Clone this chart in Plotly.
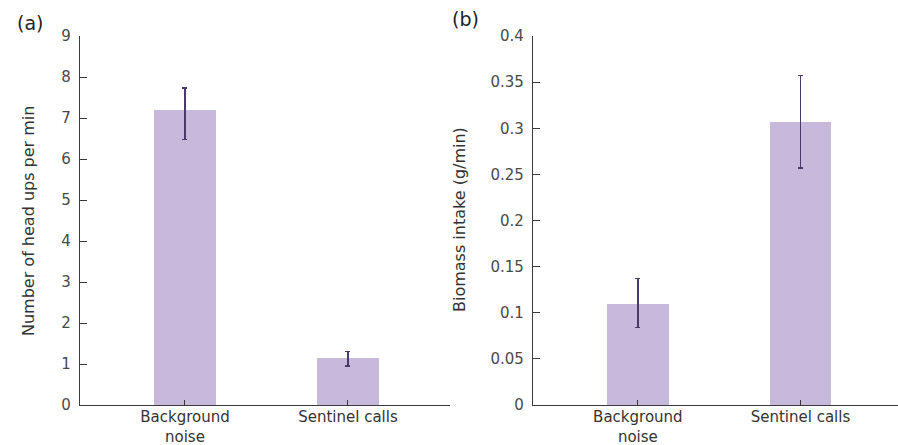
import plotly.graph_objects as go

categories = ["Background<br>noise", "Sentinel calls"]
headups = [7.2, 1.15]
headups_err_plus = [0.53, 0.15]
headups_err_minus = [0.72, 0.2]
biomass = [0.11, 0.307]
biomass_err_plus = [0.027, 0.05]
biomass_err_minus = [0.026, 0.05]
yticks_a = [0, 1, 2, 3, 4, 5, 6, 7, 8, 9]
yticks_b = [0, 0.05, 0.1, 0.15, 0.2, 0.25, 0.3, 0.35, 0.4]
yticklabels_b = ["0", "0.05", "0.1", "0.15", "0.2", "0.25", "0.3", "0.35", "0.4"]

BAR = "#c6b9db"
ERR = "#4a3a6a"
AX = "#3a3a3a"
FONT = "DejaVu Sans"

fig = go.Figure()
fig.add_trace(go.Bar(
    x=[0, 1], y=headups, width=0.38, marker=dict(color=BAR, line=dict(width=0)),
    error_y=dict(type="data", symmetric=False, array=headups_err_plus,
                 arrayminus=headups_err_minus, color=ERR, thickness=1.3, width=2.5),
    xaxis="x", yaxis="y", showlegend=False))
fig.add_trace(go.Bar(
    x=[0, 1], y=biomass, width=0.38, marker=dict(color=BAR, line=dict(width=0)),
    error_y=dict(type="data", symmetric=False, array=biomass_err_plus,
                 arrayminus=biomass_err_minus, color=ERR, thickness=1.3, width=2.5),
    xaxis="x2", yaxis="y2", showlegend=False))

ydom = [(445 - 405) / 445, (445 - 36) / 445]
common_x = dict(tickmode="array", tickvals=[0, 1], ticktext=categories,
                ticks="inside", ticklen=5, tickcolor=AX, tickwidth=1.3,
                showline=True, linecolor=AX, linewidth=1.3, showgrid=False,
                zeroline=False, automargin=False, ticklabelstandoff=-2,
                tickfont=dict(family=FONT, size=15, color="#333"))
common_y = dict(ticks="inside", ticklen=7, tickcolor=AX, tickwidth=1.3,
                showline=True, linecolor=AX, linewidth=1.3, showgrid=False,
                zeroline=False, automargin=False,
                tickfont=dict(family=FONT, size=15, color="#4a4a4a"),
                ticklabelstandoff=5)

fig.update_layout(
    width=898, height=445, margin=dict(l=0, r=0, t=0, b=0, autoexpand=False),
    paper_bgcolor="white", plot_bgcolor="white", bargap=0,
    xaxis=dict(domain=[80 / 898, 450 / 898], range=[-0.644, 1.626], anchor="y", **common_x),
    yaxis=dict(domain=ydom, range=[0, 9], tickvals=yticks_a, anchor="x", **common_y),
    xaxis2=dict(domain=[533 / 898, 1.0], range=[-0.645, 1.6], anchor="y2", **common_x),
    yaxis2=dict(domain=ydom, range=[0, 0.4], tickvals=yticks_b, ticktext=yticklabels_b,
                anchor="x2", **common_y),
    annotations=[
        dict(text="(a)", x=15 / 898, y=1 - 23 / 445, xref="paper", yref="paper",
             xanchor="left", yanchor="middle", showarrow=False,
             font=dict(family=FONT, size=19, color="#222")),
        dict(text="(b)", x=450 / 898, y=1 - 19 / 445, xref="paper", yref="paper",
             xanchor="left", yanchor="middle", showarrow=False,
             font=dict(family=FONT, size=19, color="#222")),
        dict(text="Number of head ups per min", x=28 / 898, y=1 - 221 / 445,
             xref="paper", yref="paper", xanchor="center", yanchor="middle",
             textangle=-90, showarrow=False,
             font=dict(family=FONT, size=16, color="#333")),
        dict(text="Biomass intake (g/min)", x=459 / 898, y=1 - 220 / 445,
             xref="paper", yref="paper", xanchor="center", yanchor="middle",
             textangle=-90, showarrow=False,
             font=dict(family=FONT, size=16, color="#333")),
    ],
)

fig.write_html("out.html", config={"displayModeBar": False},
               post_script="document.body.style.margin='0';")
